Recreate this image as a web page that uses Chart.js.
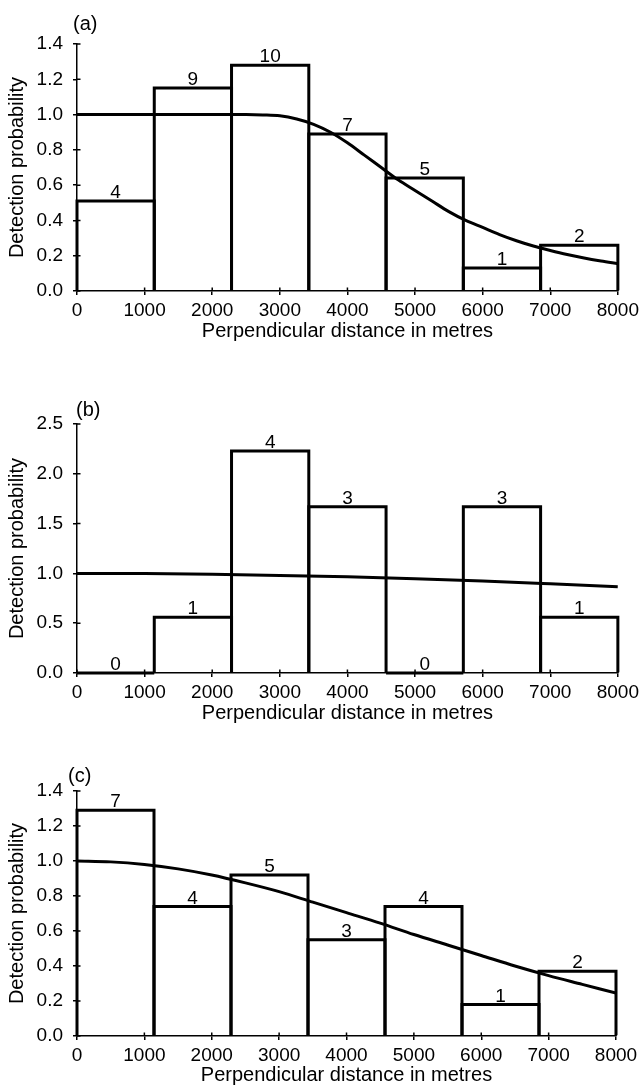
<!DOCTYPE html>
<html>
<head>
<meta charset="utf-8">
<script src="https://cdn.jsdelivr.net/npm/chart.js@4.4.0/dist/chart.umd.min.js"></script>
<style>
html, body { margin:0; padding:0; background:#fff; width:643px; height:1088px; overflow:hidden; }
canvas { position:absolute; left:0; }
</style>
</head>
<body>
<canvas id="ca" width="643" height="350" style="top:0px;width:643px;height:350px"></canvas>
<canvas id="cb" width="643" height="352" style="top:380px;width:643px;height:352px"></canvas>
<canvas id="cc" width="643" height="348" style="top:740px;width:643px;height:348px"></canvas>
<script>
// ---- data ----
const binLabels = ['0-1143', '1143-2286', '2286-3429', '3429-4571', '4571-5714', '5714-6857', '6857-8000'];
const xTicksMax = 8000;

// panel (a)
const countsA  = [4, 9, 10, 7, 5, 1, 2];
const heightsA = [0.51, 1.15, 1.28, 0.89, 0.64, 0.13, 0.26];
const curveDistA = [0, 500, 1000, 1500, 2000, 2500, 2750, 3000, 3250, 3500, 3750, 4000, 4250, 4500, 4750, 5000, 5250, 5500, 5750, 6000, 6250, 6500, 6750, 7000, 7250, 7500, 7750, 8000];
const curveValA  = [1.0, 1.0, 1.0, 1.0, 1.0, 1.0, 0.998, 0.993, 0.975, 0.945, 0.90, 0.84, 0.77, 0.70, 0.63, 0.57, 0.51, 0.45, 0.40, 0.36, 0.32, 0.285, 0.255, 0.23, 0.207, 0.187, 0.17, 0.155];

// panel (b)
const countsB  = [0, 1, 4, 3, 0, 3, 1];
const heightsB = [0, 0.56, 2.23, 1.67, 0, 1.67, 0.56];
const curveDistB = [0, 1000, 2000, 3000, 4000, 5000, 6000, 7000, 8000];
const curveValB  = [1.0, 0.998, 0.991, 0.98, 0.966, 0.947, 0.924, 0.896, 0.866];

// panel (c)
const countsC  = [7, 4, 5, 3, 4, 1, 2];
const heightsC = [1.29, 0.74, 0.92, 0.55, 0.74, 0.18, 0.37];
const curveDistC = [0, 500, 1000, 1500, 2000, 2500, 3000, 3500, 4000, 4500, 5000, 5500, 6000, 6500, 7000, 7500, 8000];
const curveValC  = [1.0, 0.995, 0.98, 0.955, 0.92, 0.875, 0.825, 0.765, 0.705, 0.645, 0.58, 0.52, 0.46, 0.40, 0.345, 0.295, 0.245];

// ---- rendering ----
const FONT = '"Liberation Sans", Arial, Helvetica, sans-serif';
Chart.defaults.font.family = FONT;
Chart.defaults.color = '#000';

const histOutline = {
  id: 'histOutline',
  afterDatasetsDraw(chart) {
    const meta = chart.getDatasetMeta(0);
    const counts = chart.data.datasets[0].counts;
    const ctx = chart.ctx;
    ctx.save();
    ctx.strokeStyle = '#000';
    ctx.lineWidth = 3;
    ctx.lineJoin = 'miter';
    ctx.lineCap = 'butt';
    meta.data.forEach(bar => {
      const {x, y, base, width} = bar.getProps(['x', 'y', 'base', 'width'], true);
      const l = x - width / 2, r = x + width / 2;
      ctx.beginPath();
      ctx.moveTo(l, base);
      ctx.lineTo(l, y);
      ctx.lineTo(r, y);
      ctx.lineTo(r, base);
      ctx.stroke();
    });
    ctx.fillStyle = '#000';
    ctx.font = '19px ' + FONT;
    ctx.textAlign = 'center';
    ctx.textBaseline = 'alphabetic';
    meta.data.forEach((bar, i) => {
      const {x, y} = bar.getProps(['x', 'y'], true);
      ctx.fillText(String(counts[i]), x, y - 3);
    });
    ctx.restore();
  }
};

function innerTicksPlugin(letter, dx, dy) {
  return {
    id: 'innerTicks',
    afterDraw(chart) {
      const ctx = chart.ctx, xs = chart.scales.x, ys = chart.scales.y, a = chart.chartArea;
      ctx.save();
      ctx.strokeStyle = '#000';
      ctx.lineWidth = 1.5;
      ctx.beginPath();
      xs.ticks.forEach((t, i) => {
        const px = xs.getPixelForTick(i);
        ctx.moveTo(px, a.bottom);
        ctx.lineTo(px, a.bottom - 3.5);
      });
      ys.ticks.forEach((t, i) => {
        const py = ys.getPixelForTick(i);
        ctx.moveTo(a.left, py);
        ctx.lineTo(a.left + 3.5, py);
      });
      ctx.stroke();
      ctx.fillStyle = '#000';
      ctx.font = '20px ' + FONT;
      ctx.textAlign = 'left';
      ctx.textBaseline = 'middle';
      ctx.fillText(letter, a.left + dx, a.top + dy);
      ctx.restore();
    }
  };
}

function makeChart(id, p) {
  const curvePts = p.dist.map((d, i) => ({x: d, y: p.curve[i]}));
  new Chart(document.getElementById(id), {
    type: 'bar',
    data: {
      labels: binLabels,
      datasets: [
        {
          type: 'bar', data: p.heights, counts: p.counts,
          xAxisID: 'xb', yAxisID: 'y',
          backgroundColor: 'rgba(0,0,0,0)', borderWidth: 0,
          categoryPercentage: 1, barPercentage: 1, grouped: false, order: 2
        },
        {
          type: 'line', data: curvePts,
          xAxisID: 'x', yAxisID: 'y',
          borderColor: '#000', borderWidth: 3, pointRadius: 0,
          cubicInterpolationMode: 'monotone', fill: false, order: 1
        }
      ]
    },
    options: {
      responsive: false,
      animation: false,
      layout: { padding: { top: p.padTop, right: p.padRight, bottom: 0, left: 0 } },
      plugins: { legend: { display: false }, tooltip: { enabled: false }, title: { display: false } },
      scales: {
        xb: { type: 'category', display: false, offset: true, grid: { offset: true } },
        x: {
          type: 'linear', position: 'bottom', min: 0, max: xTicksMax,
          offset: false,
          ticks: { stepSize: 1000, autoSkip: false, maxRotation: 0, minRotation: 0, padding: 4,
                   color: '#000', font: { size: 19 }, callback: v => String(v) },
          grid: { offset: false, drawOnChartArea: false, drawTicks: true, tickLength: 4, color: '#000', lineWidth: 1.5 },
          border: { display: true, color: '#000', width: 1.5 },
          title: { display: true, text: 'Perpendicular distance in metres', color: '#000',
                   font: { size: 20 }, padding: { top: 0, bottom: p.titlePadB } },
          afterFit: s => { s.height = p.xh; }
        },
        y: {
          type: 'linear', min: 0, max: p.ymax,
          ticks: { stepSize: p.ystep, padding: 10, color: '#000', font: { size: 19 },
                   callback: v => Number(v).toFixed(1) },
          grid: { drawOnChartArea: false, drawTicks: true, tickLength: 4, color: '#000', lineWidth: 1.5 },
          border: { display: true, color: '#000', width: 1.5 },
          title: { display: true, text: 'Detection probability', color: '#000',
                   font: { size: 20 }, padding: { top: 5, bottom: 0 } },
          afterFit: s => { s.width = 77; }
        }
      }
    },
    plugins: [histOutline, innerTicksPlugin(p.letter, p.ldx, p.ldy)]
  });
}

makeChart('ca', { counts: countsA, heights: heightsA, dist: curveDistA, curve: curveValA,
  ymax: 1.4, ystep: 0.2, padTop: 44, padRight: 24, xh: 59, titlePadB: 7, letter: '(a)', ldx: -4, ldy: -20 });
makeChart('cb', { counts: countsB, heights: heightsB, dist: curveDistB, curve: curveValB,
  ymax: 2.5, ystep: 0.5, padTop: 44, padRight: 24, xh: 59, titlePadB: 7, letter: '(b)', ldx: -1, ldy: -14 });
makeChart('cc', { counts: countsC, heights: heightsC, dist: curveDistC, curve: curveValC,
  ymax: 1.4, ystep: 0.2, padTop: 51, padRight: 27, xh: 52, titlePadB: 1, letter: '(c)', ldx: -9, ldy: -14.5 });
</script>
</body>
</html>
